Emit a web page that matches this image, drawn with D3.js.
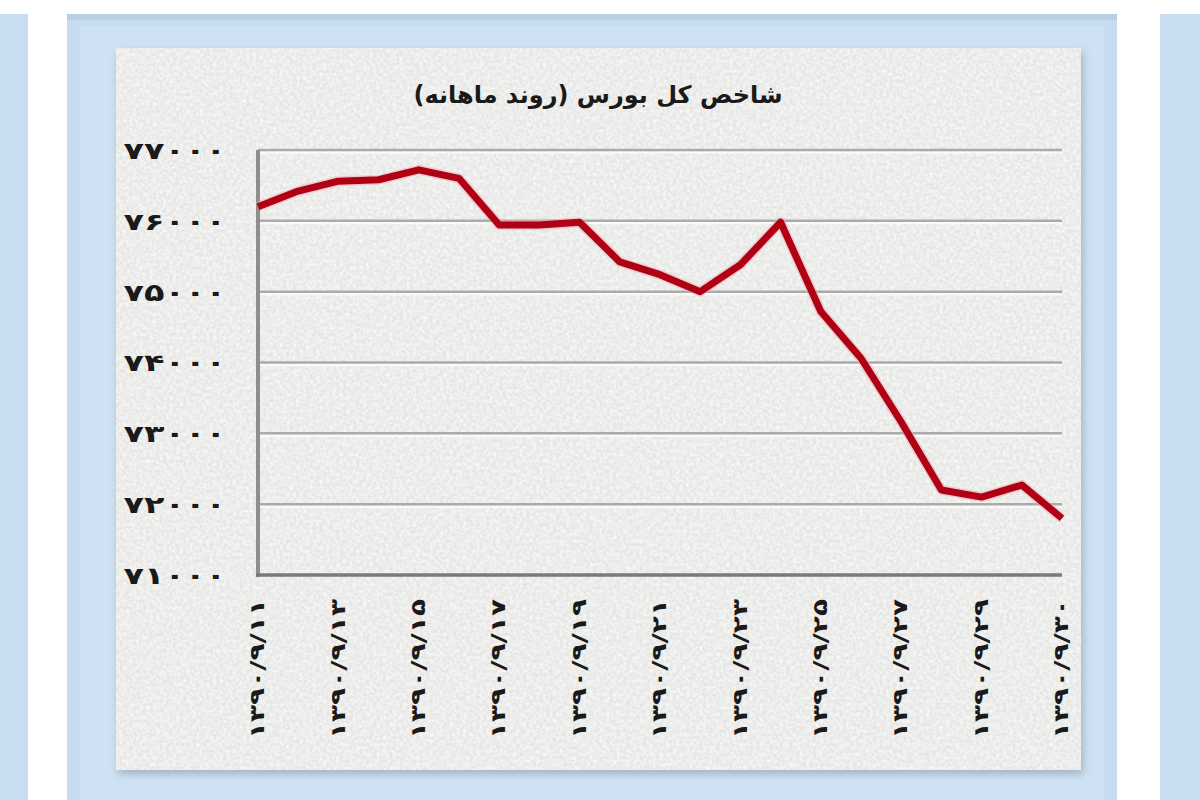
<!DOCTYPE html>
<html><head><meta charset="utf-8">
<script src="https://cdn.jsdelivr.net/npm/d3@7/dist/d3.min.js"></script>
<style>
html,body{margin:0;padding:0;background:#fff;}
svg{display:block;}
</style></head>
<body>
<svg id="chart" width="1200" height="800"></svg>
<script>
const title = "شاخص کل بورس (روند ماهانه)";
const dateLabels = ["۱۳۹۰/۹/۱۱","۱۳۹۰/۹/۱۳","۱۳۹۰/۹/۱۵","۱۳۹۰/۹/۱۷","۱۳۹۰/۹/۱۹","۱۳۹۰/۹/۲۱","۱۳۹۰/۹/۲۳","۱۳۹۰/۹/۲۵","۱۳۹۰/۹/۲۷","۱۳۹۰/۹/۲۹","۱۳۹۰/۹/۳۰"];
const values = [76200,76420,76560,76580,76720,76600,75940,75940,75980,75420,75240,75000,75380,75980,74720,74060,73160,72200,72100,72270,71800];
const yTicks = [71000,72000,73000,74000,75000,76000,77000];
const faDigits = "۰۱۲۳۴۵۶۷۸۹";
const toFa = n => String(n).replace(/\d/g, d => faDigits[d]);

const svg = d3.select("#chart");
const defs = svg.append("defs");
const f = defs.append("filter").attr("id","tex").attr("x",0).attr("y",0).attr("width","100%").attr("height","100%");
f.append("feTurbulence").attr("type","fractalNoise").attr("baseFrequency",0.3).attr("numOctaves",2).attr("seed",3).attr("result","n");
f.append("feColorMatrix").attr("in","n").attr("type","matrix")
 .attr("values","0 0 0 0 0.97  0 0 0 0 0.97  0 0 0 0 0.97  0 0 0 -1.6 1.1").attr("result","c");
f.append("feComposite").attr("in","c").attr("in2","SourceGraphic").attr("operator","over");
const sh = defs.append("filter").attr("id","shadow").attr("x","-5%").attr("y","-5%").attr("width","110%").attr("height","110%");
sh.append("feDropShadow").attr("dx",2).attr("dy",4).attr("stdDeviation",4).attr("flood-color","#7a8a99").attr("flood-opacity",0.55);

// side panels
svg.append("rect").attr("x",0).attr("y",14).attr("width",28).attr("height",786).attr("fill","#c9ddf0");
svg.append("rect").attr("x",1160).attr("y",14).attr("width",40).attr("height",786).attr("fill","#c9ddf0");
// central panel
svg.append("rect").attr("x",67).attr("y",14).attr("width",1050).attr("height",786).attr("fill","#c7dcf0");
svg.append("rect").attr("x",67).attr("y",14).attr("width",1050).attr("height",6).attr("fill","#b9cfe4");
svg.append("rect").attr("x",80).attr("y",26).attr("width",1024).attr("height",774).attr("fill","#cfe2f3");
// gray chart box
svg.append("rect").attr("x",116).attr("y",48).attr("width",965).attr("height",722)
  .attr("fill","#e4e4e2").attr("filter","url(#shadow)");
svg.append("rect").attr("x",116).attr("y",48).attr("width",965).attr("height",722)
  .attr("fill","#e6e6e4").attr("filter","url(#tex)");

const margin = {left:258, right:1062, top:150, bottom:575};
const x = d3.scalePoint().domain(d3.range(values.length)).range([margin.left, margin.right]);
const y = d3.scaleLinear().domain([71000,77000]).range([margin.bottom, margin.top]);

// gridlines
const g = svg.append("g");
g.selectAll("line.grid").data(yTicks.slice(1)).join("line")
  .attr("x1",margin.left).attr("x2",margin.right).attr("y1",d=>y(d)+2.5).attr("y2",d=>y(d)+2.5)
  .attr("stroke","#fbfbfb").attr("stroke-width",2);
g.selectAll("line.grid2").data(yTicks.slice(1)).join("line")
  .attr("x1",margin.left).attr("x2",margin.right).attr("y1",d=>y(d)).attr("y2",d=>y(d))
  .attr("stroke","#ababab").attr("stroke-width",2.5);

// axes lines
svg.append("line").attr("x1",margin.left).attr("x2",margin.left).attr("y1",margin.top).attr("y2",margin.bottom+2)
  .attr("stroke","#8e8e8e").attr("stroke-width",4);
svg.append("line").attr("x1",margin.left-2).attr("x2",margin.right).attr("y1",margin.bottom).attr("y2",margin.bottom)
  .attr("stroke","#7a7a7a").attr("stroke-width",3.5);

// y axis labels
const yAxis = d3.axisLeft(y).tickValues(yTicks).tickSize(0).tickPadding(0).tickFormat(d=>toFa(d));
const ya = svg.append("g").attr("transform",`translate(${margin.left},0)`).call(yAxis);
ya.select(".domain").remove();
ya.selectAll("text").attr("font-family","DejaVu Sans").attr("font-weight","bold").attr("font-size",24)
  .attr("fill","#1a1a1a").attr("dy","0.35em").attr("x",0)
  .attr("transform","translate(-32,0) scale(1.4,1)");

// x axis labels
const labelIdx = d3.range(0, values.length, 2);
const xAxis = d3.axisBottom(x).tickValues(labelIdx).tickSize(0).tickPadding(0).tickFormat((d,i)=>dateLabels[i]);
const xa = svg.append("g").attr("transform",`translate(0,${margin.bottom})`).call(xAxis);
xa.select(".domain").remove();
xa.selectAll("text").attr("font-family","DejaVu Sans").attr("font-weight","bold").attr("font-size",20)
  .attr("fill","#1a1a1a")
  .attr("text-anchor","end").attr("dy",null).attr("y",0)
  .attr("transform","translate(0,24) rotate(-90) scale(1.4,1)").attr("dominant-baseline","middle");

// line
const line = d3.line().x((d,i)=>x(i)).y(d=>y(d));
svg.append("path").datum(values).attr("d",line).attr("fill","none")
  .attr("stroke","#f1aab2").attr("stroke-width",10).attr("stroke-linejoin","round").attr("opacity",0.5);
svg.append("path").datum(values).attr("d",line).attr("fill","none")
  .attr("stroke","#b00014").attr("stroke-width",7).attr("stroke-linejoin","round");

// title
svg.append("text").attr("x",598).attr("y",96).attr("text-anchor","middle").attr("dominant-baseline","middle")
  .attr("direction","rtl").attr("font-family","DejaVu Sans").attr("font-weight","bold").attr("font-size",24)
  .attr("fill","#1a1a1a").text(title);
</script>
</body></html>
